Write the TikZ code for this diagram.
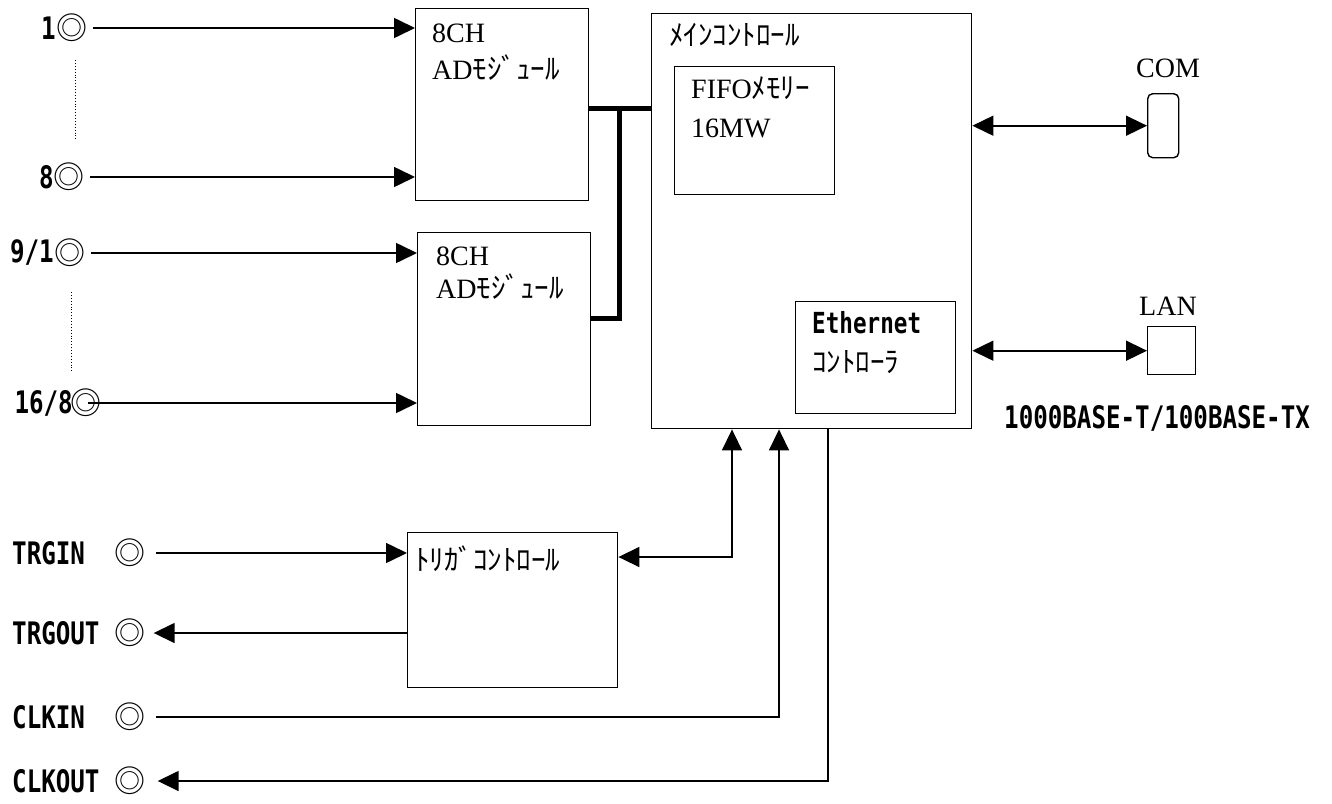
\documentclass[tikz,border=0pt]{standalone}
\usepackage{fontspec}
\setmainfont{Liberation Serif}
\newfontfamily\jp{Noto Sans CJK JP}
\newfontfamily\gm[FakeStretch=0.78]{DejaVu Sans Mono}
\usetikzlibrary{arrows.meta}
\begin{document}
\begin{tikzpicture}[x=1pt,y=-1pt,
  box/.style={draw,line width=1.4pt,inner sep=0pt,anchor=north west},
  ln/.style={line width=1.6pt},
  arr/.style={ln,-{Triangle[length=21pt,width=20pt]}},
  darr/.style={ln,{Triangle[length=21pt,width=20pt]}-{Triangle[length=21pt,width=20pt]}},
  bus/.style={line width=5pt},
  lab/.style={inner sep=0pt,font=\gm\bfseries\fontsize{31}{31}\selectfont},
  dc/.style={inner sep=0pt,font=\jp\fontsize{31}{31}\selectfont},
  ser/.style={inner sep=0pt,anchor=base west,font=\fontsize{28}{28}\selectfont},
  kana/.style={inner sep=0pt,anchor=base west,font=\jp\fontsize{29}{29}\selectfont},
  dots/.style={dotted,line width=0.9pt}
]
\useasboundingbox (0,0) rectangle (1332,803);

% boxes
\node[box,minimum width=173pt,minimum height=192pt] (ad1) at (415,8) {};
\node[box,minimum width=173pt,minimum height=193pt] (ad2) at (417,232) {};
\node[box,minimum width=320pt,minimum height=415pt] (main) at (651,13) {};
\node[box,minimum width=160pt,minimum height=128pt] (fifo) at (674,66) {};
\node[box,minimum width=160pt,minimum height=112pt] (eth) at (795,301) {};
\node[box,minimum width=210pt,minimum height=155pt] (trig) at (407,532) {};
\node[box,rounded corners=5pt,minimum width=31pt,minimum height=64pt] (com) at (1147,93) {};
\node[box,minimum width=48pt,minimum height=48pt] (lan) at (1147,326) {};

% box texts
\node[ser] (t8a) at (432,42) {8CH};
\node[ser] (tada) at (432,79) {AD{\jp\fontsize{29}{29}\selectfont ﾓｼﾞｭｰﾙ}};
\node[ser] (t8b) at (436,265) {8CH};
\node[ser] (tadb) at (436,298) {AD{\jp\fontsize{29}{29}\selectfont ﾓｼﾞｭｰﾙ}};
\node[kana] (tmain) at (669,45) {ﾒｲﾝｺﾝﾄﾛｰﾙ};
\node[ser] (tfifo) at (691,98) {FIFO{\jp\fontsize{29}{29}\selectfont ﾒﾓﾘｰ}};
\node[ser] (tmw) at (691,137) {16MW};
\node[lab,anchor=base west,font=\gm\bfseries\fontsize{29}{29}\selectfont] (teth) at (812,333) {Ethernet};
\node[kana] (tethc) at (812,372) {ｺﾝﾄﾛｰﾗ};
\node[kana] (ttrig) at (415,570) {ﾄﾘｶﾞｺﾝﾄﾛｰﾙ};
\node[ser,anchor=base] (tcom) at (1168,77) {COM};
\node[ser,anchor=base] (tlan) at (1168,315) {LAN};
\node[lab,anchor=base west] (tbase) at (1004,428) {1000BASE-T/100BASE-TX};

% left inputs
\node[lab,anchor=east] (l1) at (56,28) {1};
\node[dc] (c1) at (72,28) {◎};
\node[lab,anchor=east] (l8) at (54,177) {8};
\node[dc] (c8) at (69,177) {◎};
\node[lab,anchor=east] (l9) at (54,253) {9/1};
\node[dc] (c9) at (70,253) {◎};
\node[lab,anchor=east] (l16) at (73,403) {16/8};
\node[dc] (c16) at (86,403) {◎};

\draw[dots] (75,60) -- (75,140);
\draw[dots] (71,292) -- (71,372);

\draw[arr,shorten <=5pt] (c1.east) -- (c1 -| ad1.west);
\draw[arr,shorten <=5pt] (c8.east) -- (c8 -| ad1.west);
\draw[arr,shorten <=5pt] (c9.east) -- (c9 -| ad2.west);
\draw[arr,shorten <=2pt] (c16.center) -- (c16 -| ad2.west);

% bus
\coordinate (j1) at (619,108);
\coordinate (j2) at (619,318);
\draw[bus] (ad1.east |- j1) -- (main.west |- j1);
\draw[bus] (j1) -- (j2) -- (j2 -| ad2.east);

% COM / LAN
\draw[darr] (main.east |- com.west) -- (com.west);
\draw[darr] (main.east |- lan.west) -- (lan.west);

% bottom labels
\node[lab,anchor=west] (ltin) at (12,553) {TRGIN};
\node[dc] (ctin) at (130,553) {◎};
\node[lab,anchor=west] (ltout) at (12,633) {TRGOUT};
\node[dc] (ctout) at (130,633) {◎};
\node[lab,anchor=west] (lcin) at (12,717) {CLKIN};
\node[dc] (ccin) at (130,717) {◎};
\node[lab,anchor=west] (lcout) at (12,781) {CLKOUT};
\node[dc] (ccout) at (130,781) {◎};

\coordinate (tr1) at (732,557);
\coordinate (ck) at (779,717);
\coordinate (co) at (828,781);

\draw[arr,shorten <=10pt] (ctin.east) -- (ctin -| trig.west);
\draw[arr,shorten >=8pt] (ctout -| trig.west) -- (ctout.east);
\draw[darr] (tr1 |- main.south) -- (tr1) -- (tr1 -| trig.east);
\draw[arr] ([xshift=10pt]ccin.east) -- (ck) -- (ck |- main.south);
\draw[arr] (co |- main.south) -- (co) -- ([xshift=12pt]ccout.east);
\end{tikzpicture}
\end{document}
